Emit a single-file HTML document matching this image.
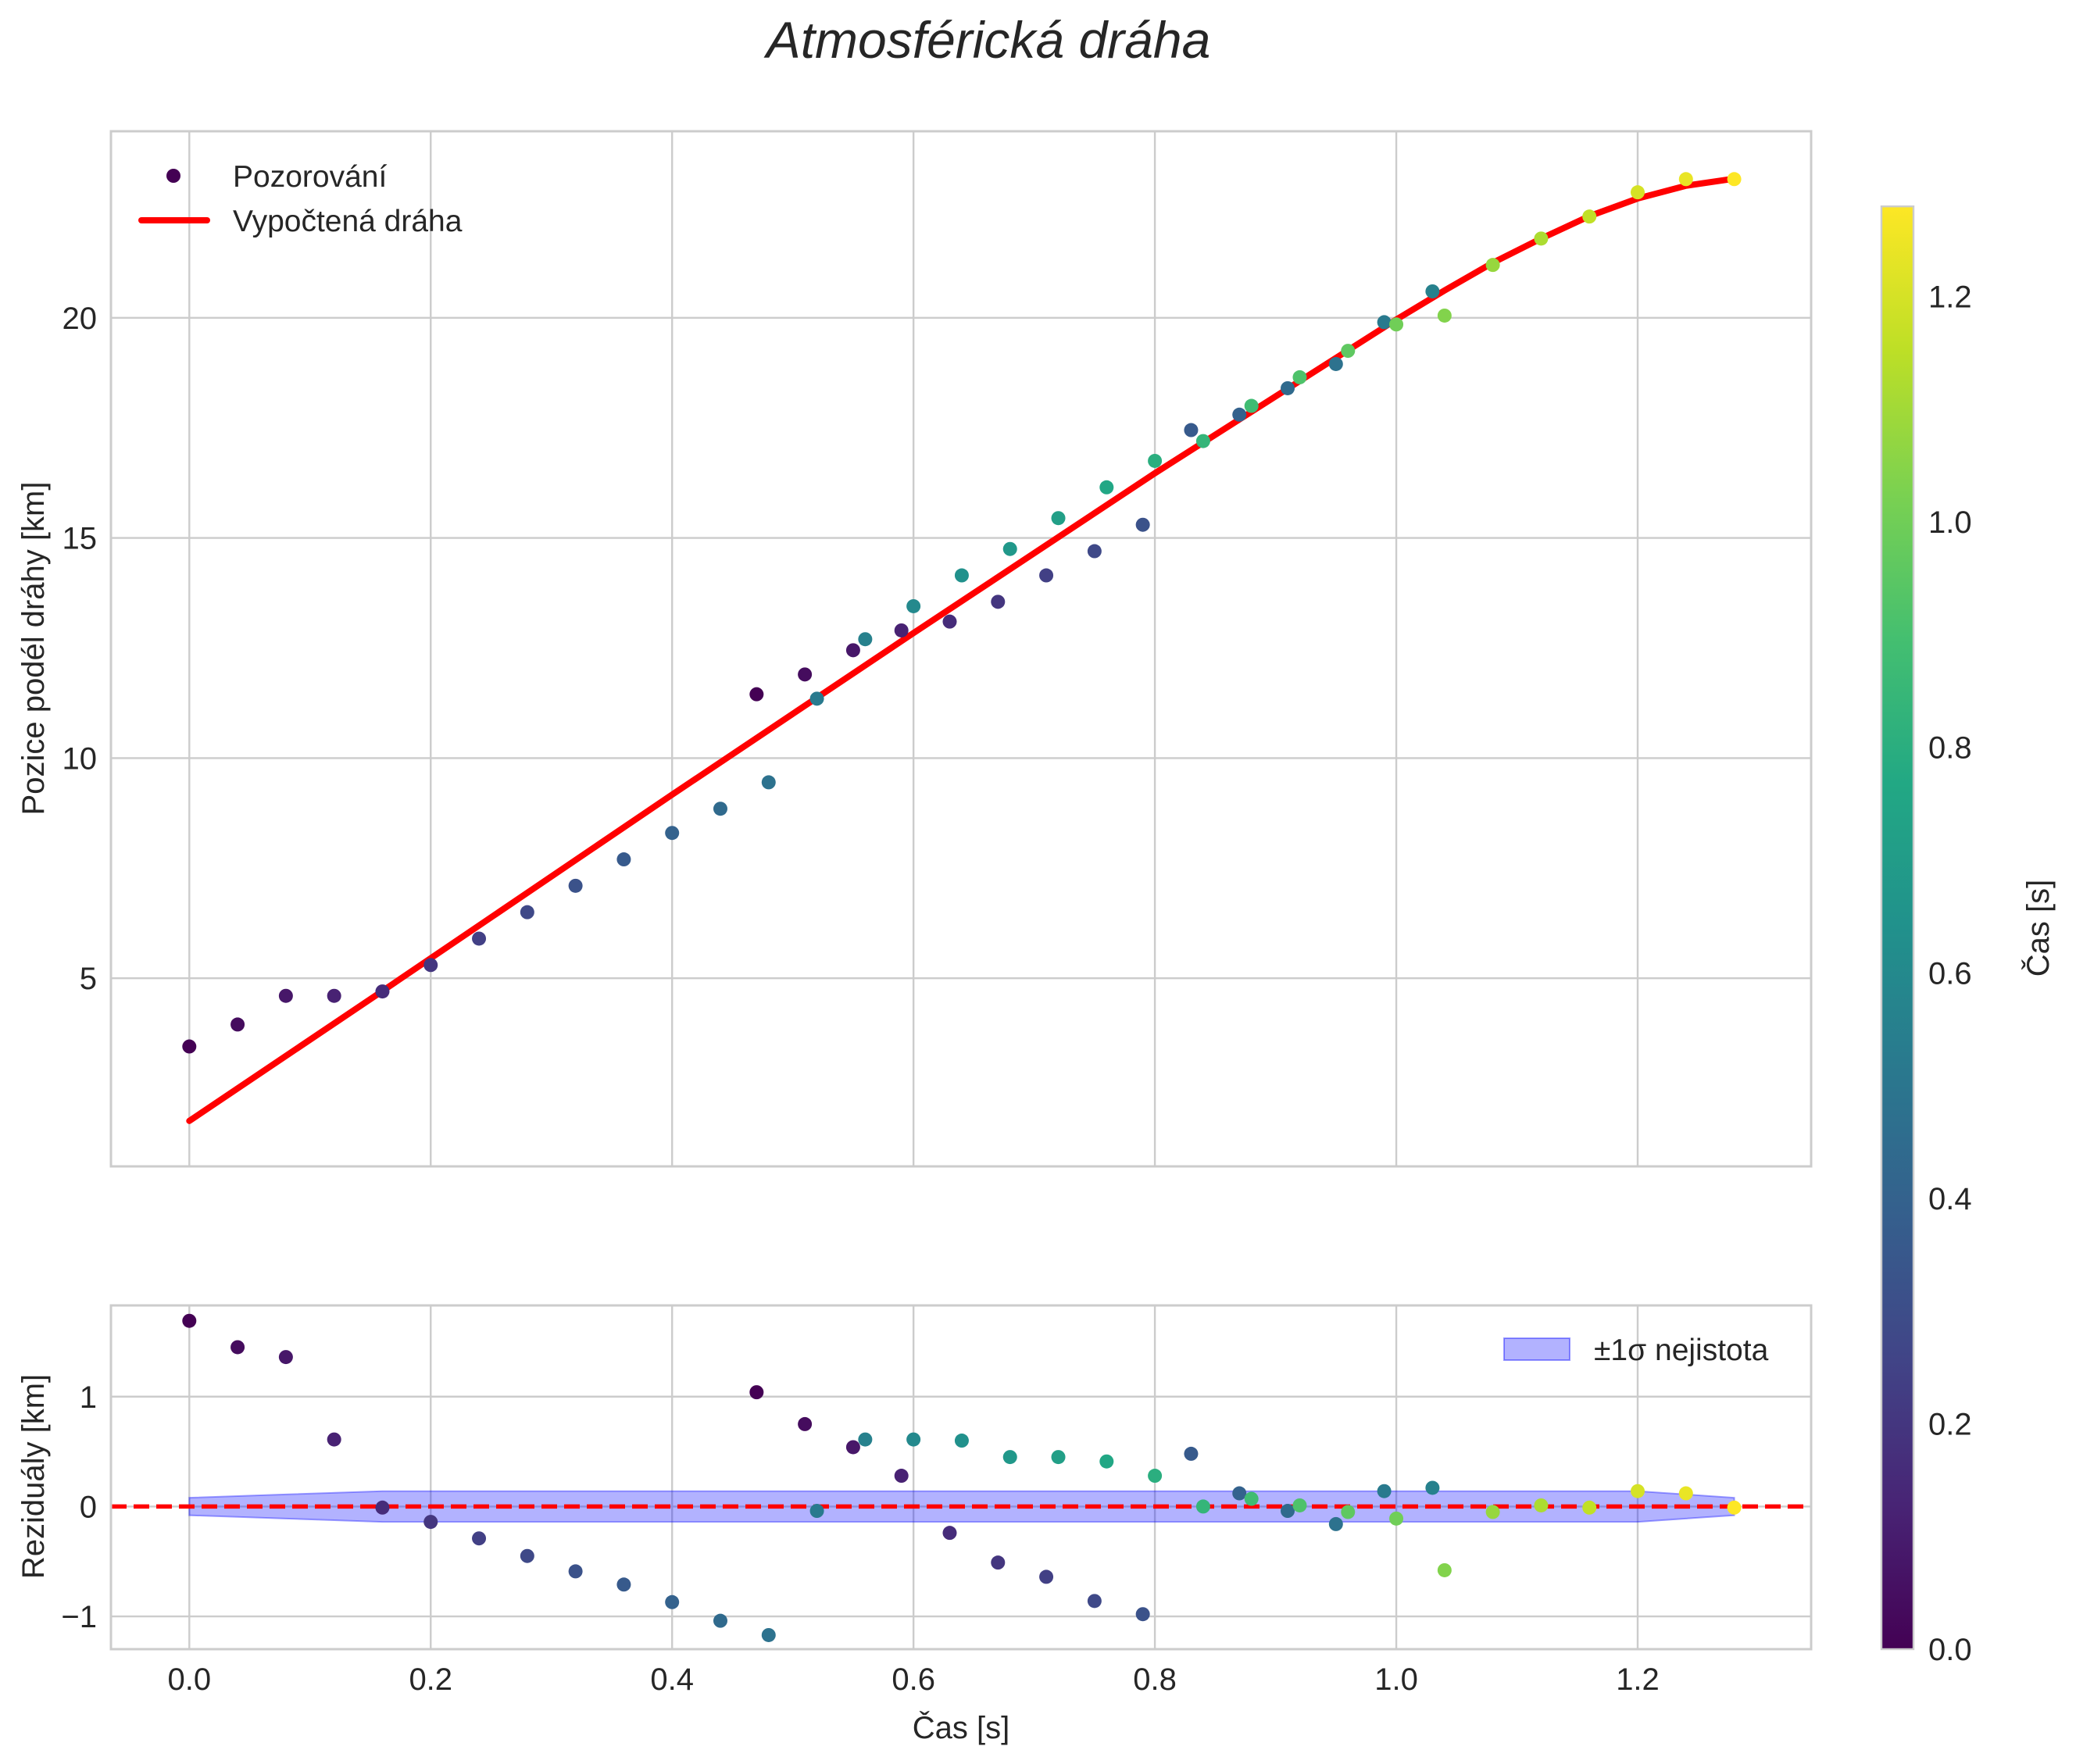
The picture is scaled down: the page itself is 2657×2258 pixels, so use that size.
<!DOCTYPE html>
<html><head><meta charset="utf-8"><style>
html,body{margin:0;padding:0;background:#fff;}
svg text{font-family:"Liberation Sans",sans-serif;fill:#262626;}
</style></head><body>
<svg id="chart" width="2657" height="2253" xmlns="http://www.w3.org/2000/svg">
<defs>
<linearGradient id="viridis" x1="0" y1="1" x2="0" y2="0">
<stop offset="0" stop-color="#440154"/><stop offset="0.1" stop-color="#482475"/>
<stop offset="0.2" stop-color="#414487"/><stop offset="0.3" stop-color="#355f8d"/>
<stop offset="0.4" stop-color="#2a788e"/><stop offset="0.5" stop-color="#21918c"/>
<stop offset="0.6" stop-color="#22a884"/><stop offset="0.7" stop-color="#44bf70"/>
<stop offset="0.8" stop-color="#7ad151"/><stop offset="0.9" stop-color="#bddf26"/>
<stop offset="1" stop-color="#fde725"/>
</linearGradient>
</defs>
<text x="1265" y="74" font-size="66" font-style="italic" text-anchor="middle">Atmosférická dráha</text>
<g id="g"></g>
</svg>
<script>
const times = [0,0.04,0.08,0.12,0.16,0.20,0.24,0.28,0.32,0.36,0.40,0.44,0.48,0.47,0.51,0.52,0.55,0.56,0.59,0.60,0.63,0.64,0.67,0.68,0.71,0.72,0.75,0.76,0.79,0.80,0.83,0.84,0.87,0.88,0.91,0.92,0.95,0.96,0.99,1.00,1.03,1.04,1.08,1.12,1.16,1.20,1.24,1.28];
const positions = [3.45,3.95,4.6,4.6,4.7,5.3,5.9,6.5,7.1,7.7,8.3,8.85,9.45,11.45,11.9,11.35,12.45,12.7,12.9,13.45,13.1,14.15,13.55,14.75,14.15,15.45,14.7,16.15,15.3,16.75,17.45,17.2,17.8,18.0,18.4,18.65,18.95,19.25,19.9,19.85,20.6,20.05,21.2,21.8,22.3,22.85,23.15,23.15];
const colorVals = [0,0.04,0.08,0.12,0.16,0.20,0.24,0.28,0.32,0.36,0.40,0.44,0.48,0,0.04,0.52,0.08,0.56,0.12,0.60,0.16,0.64,0.20,0.68,0.24,0.72,0.28,0.76,0.32,0.80,0.36,0.84,0.40,0.88,0.44,0.92,0.48,0.96,0.52,1.00,0.56,1.04,1.08,1.12,1.16,1.20,1.24,1.28];
const residuals = [1.69,1.45,1.36,0.61,-0.01,-0.14,-0.29,-0.45,-0.59,-0.71,-0.87,-1.04,-1.17,1.04,0.75,-0.04,0.54,0.61,0.28,0.61,-0.24,0.6,-0.51,0.45,-0.64,0.45,-0.86,0.41,-0.98,0.28,0.48,0,0.12,0.07,-0.04,0.01,-0.16,-0.05,0.14,-0.11,0.17,-0.58,-0.05,0.01,-0.01,0.14,0.12,-0.01];
const fitT = [0,0.16,0.4,0.6,0.8,1.0,1.04,1.08,1.12,1.16,1.2,1.24,1.28];
const fitY = [1.76,4.71,9.17,12.84,16.47,19.96,20.62,21.25,21.8,22.31,22.71,23.0,23.16];
const sigT = [0,0.08,0.16,0.5,0.9,1.2,1.24,1.28];
const sigV = [0.08,0.11,0.14,0.14,0.14,0.14,0.11,0.08];
const xTicks = [0,0.2,0.4,0.6,0.8,1.0,1.2];
const xTickLabels = ["0.0","0.2","0.4","0.6","0.8","1.0","1.2"];
const yTopTicks = [5,10,15,20];
const yResTicks = [-1,0,1];
const yResLabels = ["\u22121","0","1"];
const cbTicks = [0,0.2,0.4,0.6,0.8,1.0,1.2];
const cbLabels = ["0.0","0.2","0.4","0.6","0.8","1.0","1.2"];

const NS="http://www.w3.org/2000/svg";
const G=document.getElementById('g');
function mk(tag,at,parent){const e=document.createElementNS(NS,tag);for(const k in at)e.setAttribute(k,at[k]);(parent||G).appendChild(e);return e;}
const X=t=>242.3+(t/0.2)*308.95;
const YT=v=>1252.2-(v-5)/5*281.8;
const YR=v=>1928.4-v*140.65;
const CB=v=>2111-v/1.2*1731.4;
const CMAX=1.28;
const stops=["#440154","#482475","#414487","#355f8d","#2a788e","#21918c","#22a884","#44bf70","#7ad151","#bddf26","#fde725"].map(h=>[1,3,5].map(i=>parseInt(h.substr(i,2),16)));
function vir(v){let f=Math.max(0,Math.min(1,v/CMAX))*10;let i=Math.min(9,Math.floor(f));let r=f-i;const a=stops[i],b=stops[i+1];return `rgb(${a.map((c,k)=>Math.round(c+(b[k]-c)*r)).join(',')})`;}

const ax1={l:142,r:2318,t:168,b:1493}, ax2={l:142,r:2318,t:1671,b:2111};
[ax1,ax2].forEach(a=>{
  xTicks.forEach(t=>{const l=mk('line',{x1:X(t),x2:X(t),y1:a.t,y2:a.b,stroke:'#cccccc','stroke-width':2.4});
    
    });
});
yTopTicks.forEach(v=>{const l=mk('line',{x1:ax1.l,x2:ax1.r,y1:YT(v),y2:YT(v),stroke:'#cccccc','stroke-width':2.4});
  
  
  const t=mk('text',{x:124,y:YT(v)+14,'font-size':40,'text-anchor':'end'});t.textContent=v;
  
  });
yResTicks.forEach((v,i)=>{const l=mk('line',{x1:ax2.l,x2:ax2.r,y1:YR(v),y2:YR(v),stroke:'#cccccc','stroke-width':2.4});
  
  
  const t=mk('text',{x:124,y:YR(v)+14,'font-size':40,'text-anchor':'end'});t.textContent=yResLabels[i];
  
  });
xTicks.forEach((t,i)=>{const e=mk('text',{x:X(t),y:2163,'font-size':40,'text-anchor':'middle'});e.textContent=xTickLabels[i];
  
  });

let up=sigT.map((t,i)=>`${X(t)},${YR(sigV[i])}`), dn=sigT.map((t,i)=>`${X(t)},${YR(-sigV[i])}`).reverse();
const band=mk('polygon',{points:up.concat(dn).join(' '),fill:'rgba(0,0,255,0.3)',stroke:'rgba(0,0,255,0.35)','stroke-width':2});


const zl=mk('line',{x1:ax2.l,x2:ax2.r,y1:YR(0),y2:YR(0),stroke:'#ff0000','stroke-width':5.5,'stroke-dasharray':'20,9'});



const fit=mk('polyline',{points:fitT.map((t,i)=>`${X(t)},${YT(fitY[i])}`).join(' '),fill:'none',stroke:'#ff0000','stroke-width':8,'stroke-linejoin':'round','stroke-linecap':'round'});



times.forEach((t,i)=>{
  const c=mk('circle',{cx:X(t),cy:YT(positions[i]),r:9,fill:vir(colorVals[i])});
  
  
  const r=mk('circle',{cx:X(t),cy:YR(residuals[i]),r:9,fill:vir(colorVals[i])});
  
  
});

[ax1,ax2].forEach(a=>{const s=mk('rect',{x:a.l,y:a.t,width:a.r-a.l,height:a.b-a.t,fill:'none',stroke:'#cccccc','stroke-width':3});
  
  });

const lg1=mk('g',{});
mk('circle',{cx:222,cy:225,r:9,fill:'#440154'},lg1);
let t1=mk('text',{x:298,y:239,'font-size':39},lg1);t1.textContent='Pozorování';
mk('line',{x1:181,x2:265,y1:282,y2:282,stroke:'#ff0000','stroke-width':8,'stroke-linecap':'round'},lg1);
let t2=mk('text',{x:298,y:296,'font-size':39},lg1);t2.textContent='Vypočtená dráha';
const lg2=mk('g',{});
mk('rect',{x:1925,y:1713,width:84,height:28,fill:'rgba(0,0,255,0.3)',stroke:'rgba(0,0,255,0.4)','stroke-width':2},lg2);
let t3=mk('text',{x:2040,y:1741,'font-size':39},lg2);t3.textContent='±1σ nejistota';

let xl=mk('text',{x:1230,y:2225,'font-size':40,'text-anchor':'middle'});xl.textContent='Čas [s]';

let yl=mk('text',{x:0,y:0,'font-size':40,'text-anchor':'middle',transform:'translate(56,830) rotate(-90)'});yl.textContent='Pozice podél dráhy [km]';

let yl2=mk('text',{x:0,y:0,'font-size':40,'text-anchor':'middle',transform:'translate(56,1890) rotate(-90)'});yl2.textContent='Reziduály [km]';


const cb=mk('rect',{x:2408,y:CB(CMAX),width:41,height:2111-CB(CMAX),fill:'url(#viridis)',stroke:'#cccccc','stroke-width':2.4});

cbTicks.forEach((v,i)=>{const e=mk('text',{x:2468,y:CB(v)+14,'font-size':40});e.textContent=cbLabels[i];
  });
let cl=mk('text',{x:0,y:0,'font-size':40,'text-anchor':'middle',transform:'translate(2622,1188) rotate(-90)'});cl.textContent='Čas [s]';

</script>
</body></html>
